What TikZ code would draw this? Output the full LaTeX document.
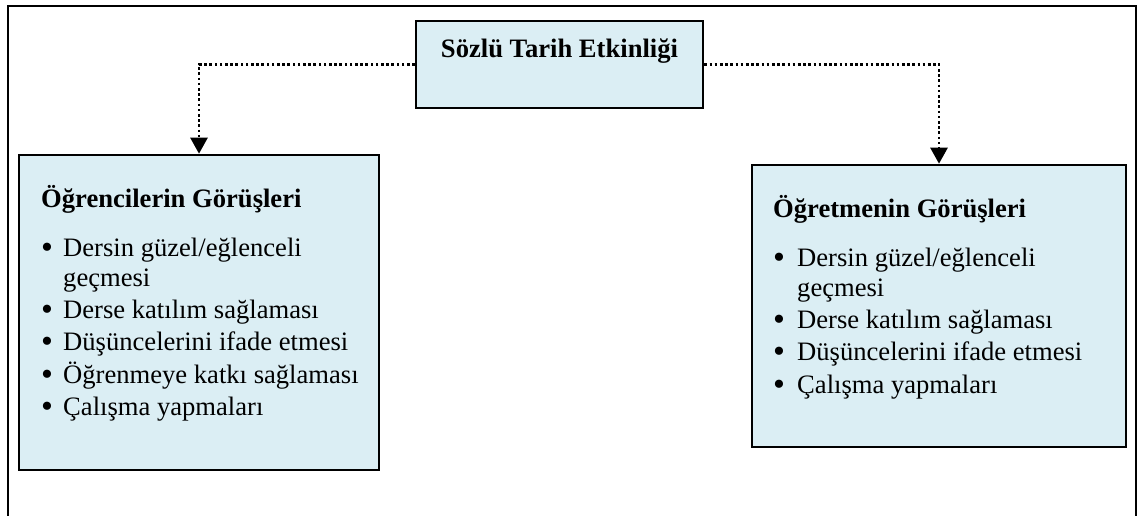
\documentclass[tikz,border=0pt]{standalone}
\usepackage{fontspec}
\setmainfont{Liberation Serif}
\usetikzlibrary{arrows.meta}
\definecolor{boxfill}{RGB}{219,238,244}
\tikzset{
  panel/.style={draw=black, line width=2.6pt, fill=boxfill, inner sep=0pt, anchor=center},
  txt/.style={inner sep=0pt, anchor=base west, font=\fontsize{26.6}{32}\selectfont},
  ttl/.style={txt, font=\fontsize{26.6}{32}\selectfont\bfseries},
  ctr/.style={inner sep=0pt, anchor=base, font=\fontsize{26.6}{32}\selectfont\bfseries},
  bul/.style={inner sep=0pt, anchor=base, font=\fontsize{34}{36}\selectfont},
  link/.style={line width=2.6pt, dash pattern=on 2.6pt off 2.6pt, -{Triangle[width=17pt,length=16pt]}},
  frame/.style={line width=1.6pt}
}
\begin{document}
\begin{tikzpicture}[x=1pt,y=-1pt]
\useasboundingbox (0,0) rectangle (1139,516);
\coordinate (fbl) at (8,520);
\coordinate (ftl) at (8,6);
\coordinate (ftr) at (1136,6);
\coordinate (fbr) at (1136,520);
\draw[frame] (fbl) -- (ftl) -- (ftr) -- (fbr);

\node[panel, minimum width=287pt, minimum height=87pt] (top) at (559.5,64.5) {};
\node[panel, minimum width=360pt, minimum height=315pt] (left) at (199,312.5) {};
\node[panel, minimum width=374pt, minimum height=282pt] (right) at (939,306) {};

\node[ctr] (ttop) at (559.5,58) {Sözlü Tarih Etkinliği};

\draw[link] (top.west) -| (left.north);
\draw[link] (top.east) -| (right.north);

% left panel
\node[ttl] (lt) at (41,207) {Öğrencilerin Görüşleri};
\node[bul] (lb1) at (47,258) {•};
\node[txt] (l1) at (63,256) {Dersin güzel/eğlenceli};
\node[txt] (l1b) at (63,286) {geçmesi};
\node[bul] (lb2) at (47,320) {•};
\node[txt] (l2) at (63,318) {Derse katılım sağlaması};
\node[bul] (lb3) at (47,352.5) {•};
\node[txt] (l3) at (63,350.5) {Düşüncelerini ifade etmesi};
\node[bul] (lb4) at (47,385) {•};
\node[txt] (l4) at (63,383) {Öğrenmeye katkı sağlaması};
\node[bul] (lb5) at (47,417.5) {•};
\node[txt] (l5) at (63,415.5) {Çalışma yapmaları};

% right panel
\node[ttl] (rt) at (773,217) {Öğretmenin Görüşleri};
\node[bul] (rb1) at (779,268) {•};
\node[txt] (r1) at (797,266) {Dersin güzel/eğlenceli};
\node[txt] (r1b) at (797,296) {geçmesi};
\node[bul] (rb2) at (779,330) {•};
\node[txt] (r2) at (797,328) {Derse katılım sağlaması};
\node[bul] (rb3) at (779,362.5) {•};
\node[txt] (r3) at (797,360.5) {Düşüncelerini ifade etmesi};
\node[bul] (rb4) at (779,395) {•};
\node[txt] (r4) at (797,393) {Çalışma yapmaları};
\end{tikzpicture}
\end{document}
